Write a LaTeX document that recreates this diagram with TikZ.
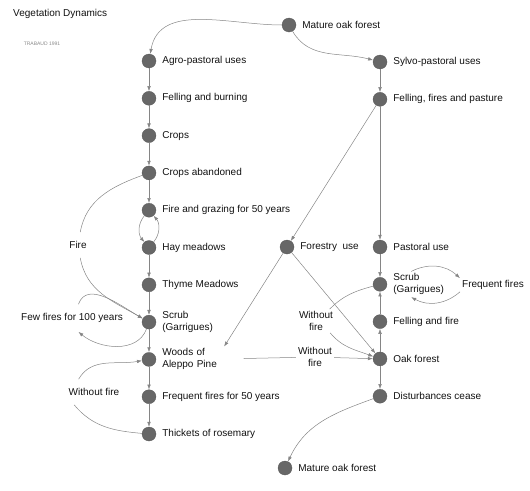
\documentclass[tikz,border=0pt]{standalone}
\usepackage{fontspec}
\setmainfont{Liberation Sans}
\usetikzlibrary{arrows.meta,positioning}
\definecolor{ink}{HTML}{111111}
\definecolor{dotfill}{HTML}{676767}
\definecolor{wire}{HTML}{858585}
\definecolor{faint}{HTML}{8A8A8A}
\tikzset{
  >={Latex[length=5pt,width=3.6pt]},
  every node/.style={font=\fontsize{10}{12}\selectfont,text=ink},
  stage/.style={circle,fill=dotfill,draw=dotfill!85!black,line width=0.3pt,minimum size=14pt,inner sep=0pt},
  tag/.style={inner sep=2pt,align=left},
  cue/.style={inner sep=2pt,align=center},
  loopcue/.style={cue,inner ysep=9pt},
  arrow/.style={->,draw=wire,line width=0.5pt},
}

\begin{document}
\begin{tikzpicture}[x=1pt,y=1pt,node distance=23pt]
\useasboundingbox (0,0) rectangle (530,-490);

\node[anchor=west,inner sep=0pt] (title) at (13,-14) {Vegetation Dynamics};
\node[font=\fontsize{5}{6}\selectfont,text=faint] (credit) at (42,-44) {TRABAUD 1991};

% top
\node[stage] (mature) at (289,-25) {};
\node[tag,right=4pt of mature] (matureT) {Mature oak forest};

% left: agro-pastoral chain
\node[stage] (agro) at (149,-61) {};
\node[stage,below=of agro] (burn) {};
\node[stage,below=of burn] (crops) {};
\node[stage,below=of crops] (fallow) {};
\node[stage,below=of fallow] (graze) {};
\node[stage,below=of graze] (hay) {};
\node[stage,below=of hay] (thyme) {};
\node[stage,below=of thyme] (scrubL) {};
\node[stage,below=of scrubL] (pine) {};
\node[stage,below=of pine] (fires) {};
\node[stage,below=of fires] (rosemary) {};

\node[tag,right=4pt of agro] (agroT) {Agro-pastoral uses};
\node[tag,right=4pt of burn] (burnT) {Felling and burning};
\node[tag,right=4pt of crops] (cropsT) {Crops};
\node[tag,right=4pt of fallow] (fallowT) {Crops abandoned};
\node[tag,right=4pt of graze] (grazeT) {Fire and grazing for 50 years};
\node[tag,right=4pt of hay] (hayT) {Hay meadows};
\node[tag,right=4pt of thyme] (thymeT) {Thyme Meadows};
\node[tag,right=4pt of scrubL] (scrubLT) {Scrub\\(Garrigues)};
\node[tag,right=4pt of pine,text width=79pt] (pineT) {Woods of\\Aleppo Pine};
\node[tag,right=4pt of fires] (firesT) {Frequent fires for 50 years};
\node[tag,right=4pt of rosemary] (rosemaryT) {Thickets of rosemary};

% right: sylvo-pastoral chain
\node[stage] (sylvo) at (380,-62) {};
\node[stage,below=of sylvo] (ffp) {};
\node[stage] (pasture) at (380,-247) {};
\node[stage,below=of pasture] (scrubR) {};
\node[stage,below=of scrubR] (cut) {};
\node[stage,below=of cut] (oak) {};
\node[stage,below=of oak] (calm) {};
\node[stage] (forestry) at (287,-247) {};
\node[stage] (climax) at (285,-468) {};

\node[tag,right=4pt of sylvo] (sylvoT) {Sylvo-pastoral uses};
\node[tag,right=4pt of ffp] (ffpT) {Felling, fires and pasture};
\node[tag,right=4pt of pasture] (pastureT) {Pastoral use};
\node[tag,right=4pt of scrubR] (scrubRT) {Scrub\\(Garrigues)};
\node[tag,right=4pt of cut] (cutT) {Felling and fire};
\node[tag,right=4pt of oak] (oakT) {Oak forest};
\node[tag,right=4pt of calm] (calmT) {Disturbances cease};
\node[tag,right=4pt of forestry] (forestryT) {Forestry\ \ use};
\node[tag,right=4pt of climax] (climaxT) {Mature oak forest};

% edge texts
\node[loopcue] (fireL) at (78,-245) {Fire};
\node[loopcue,inner xsep=1pt] (few) at (72,-318) {Few fires for 100 years};
\node[loopcue] (wfL) at (94,-392) {Without fire};
\node[cue] (wfR) at (316,-321) {Without\\fire};
\node[cue] (wfH) at (315,-357) {Without\\fire};
\node[cue] (freq) at (493,-285) {Frequent fires};

% connectors
\foreach \a/\b in {agro/burn, burn/crops, crops/fallow, fallow/graze, hay/thyme, thyme/scrubL, scrubL/pine, pine/fires, fires/rosemary, sylvo/ffp, ffp/pasture, ffp/forestry, pasture/scrubR, oak/cut, cut/scrubR, oak/calm, forestry/oak}
  \draw[arrow] (\a) -- (\b);

\draw[arrow] (mature) to[out=180,in=80] (agro);
\draw[arrow] (mature) to[out=-60,in=165] (sylvo);
\draw[arrow] (calm) to[out=200,in=65] (climax);

\draw[arrow] (graze) to[bend right=40] (hay);
\draw[arrow] (hay) to[bend right=40] (graze);
\draw[arrow] (fallow) to[out=200,in=80] (fireL) to[out=-80,in=150] (scrubL);
\draw[arrow] (few.65) to[out=70,in=150] (scrubL);
\draw[arrow] (scrubL) to[out=-110,in=-40] (few.-65);
\draw[arrow] (rosemary) to[out=175,in=-50] (wfL.213) (wfL.140) to[out=60,in=190] (pine);

\draw[arrow] (forestry) -- (pineT.30);
\draw[arrow] (pineT) -- (wfH) -- (oak);
\draw[arrow] (scrubR) to[out=195,in=45] (wfR.41) (wfR.-40) to[out=-50,in=160] (oak);
\draw[arrow] (scrubRT.120) to[bend left=35] (freq.north west);
\draw[arrow] (freq.south west) to[bend left=35] (scrubRT.-120);

\end{tikzpicture}
\end{document}
